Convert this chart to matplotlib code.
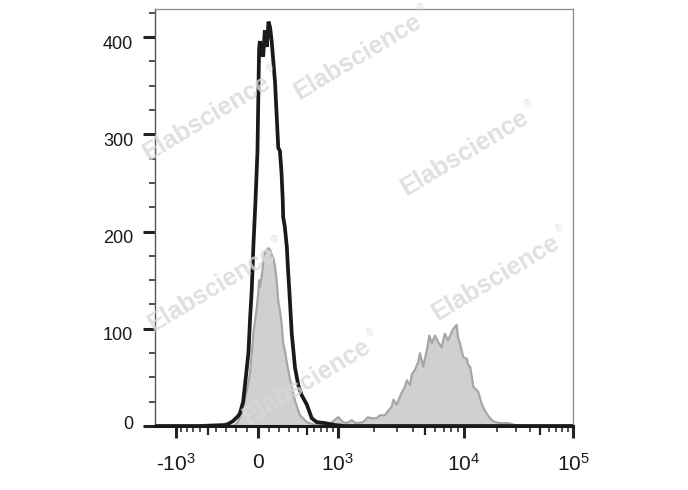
import numpy as np
import matplotlib
matplotlib.use("Agg")
import matplotlib.pyplot as plt
from matplotlib.transforms import ScaledTranslation

plt.rcParams['font.family'] = ['Liberation Sans', 'DejaVu Sans']
plt.rcParams['mathtext.fontset'] = 'custom'
plt.rcParams['mathtext.rm'] = 'Liberation Sans'

# histogram data, x in display channels (0-1024), y = count
black_ch = [0, 110, 171, 179, 191, 203, 208, 216, 225, 229, 233, 237, 241, 246, 251, 253,
            255, 257, 261, 265, 269, 274, 278, 282, 286, 294, 298, 302, 306, 310, 313,
            314, 318, 323, 326, 329, 335, 343, 351, 359, 372, 384, 396, 416, 441, 465, 1024]
black_cnt = [0, 0, 1, 2, 5, 10, 13, 25, 60, 76, 111, 140, 185, 230, 282, 335,
             388, 396, 385, 380, 407, 390, 416, 410, 395, 354, 320, 286, 283, 260, 232,
             215, 205, 184, 160, 140, 95, 60, 42, 32, 22, 8, 4, 3, 1, 0, 0]

gray_ch = [0, 189, 196, 203, 212, 218, 225, 229, 233, 237, 241, 245, 249, 253, 255, 257,
           261, 265, 269, 274, 278, 282, 286, 290, 294, 298, 302, 306, 310, 314, 318,
           326, 335, 343, 355, 372, 392, 404, 416, 429, 445, 449, 461, 470, 482, 492,
           510, 521, 531, 543, 551, 563, 572, 580, 584, 592, 600, 604, 612, 617, 625,
           629, 637, 645, 649, 657, 666, 672, 678, 686, 694, 702, 710, 718, 727, 731,
           735, 739, 742, 747, 755, 764, 767, 772, 776, 780, 788, 792, 800, 808, 817,
           825, 833, 845, 866, 882, 894, 1024]
gray_cnt = [0, 0, 1, 4, 13, 24, 36, 45, 55, 75, 96, 108, 120, 137, 150, 143,
            153, 167, 178, 181, 183, 181, 176, 173, 164, 150, 128, 119, 106, 85, 78,
            58, 40, 26, 11, 4, 1, 2, 3, 2, 8, 9, 4, 3, 6, 3,
            4, 9, 8, 8, 11, 11, 16, 20, 27, 22, 30, 34, 40, 47, 42,
            53, 58, 66, 75, 61, 78, 93, 85, 93, 86, 81, 95, 88, 97, 100,
            102, 104, 92, 85, 71, 69, 63, 61, 51, 40, 37, 35, 23, 16, 10,
            6, 4, 3, 3, 1, 0, 0]

# axis calibration (intensity -> channel)
cal_val = [-1e3, 0, 1e3, 1e4, 1e5]
cal_ch = [51, 252, 448, 757, 1024]
major_vals = [-1e3, 0, 1e3, 1e4, 1e5]
major_labels = ['-$\\mathregular{10^{3}}$', '0', '$\\mathregular{10^{3}}$',
                '$\\mathregular{10^{4}}$', '$\\mathregular{10^{5}}$']
mid_vals = [-500, 500, 5e3, 5e4]
minor_vals = ([-k * 100 for k in range(1, 10) if k != 5] + [k * 100 for k in range(1, 10) if k != 5]
              + [k * 1e3 for k in range(2, 10) if k != 5] + [k * 1e4 for k in range(2, 10) if k != 5])


def to_channel(v):
    u = np.arcsinh(np.asarray(v, dtype=float) / 500.0)
    return np.interp(u, np.arcsinh(np.array(cal_val) / 500.0), cal_ch)


fig = plt.figure(figsize=(6.88, 4.9), dpi=100)
ax = fig.add_axes([155 / 688, 1 - 426 / 490, 418 / 688, 417 / 490])

ax.fill_between(gray_ch, gray_cnt, 0, color='#d0d0d0', lw=0, zorder=1)
ax.plot(gray_ch, gray_cnt, color='#a6a6a6', lw=1.6, zorder=2)
ax.plot(black_ch, black_cnt, color='#1a1a1a', lw=2.7, zorder=3, solid_joinstyle='miter')

ax.set_xlim(0, 1024)
ax.set_ylim(0, 429)

ax.set_xticks(to_channel(major_vals))
ax.set_xticklabels(major_labels)
ax.set_xticks(to_channel(minor_vals), minor=True)
ax.set_yticks([0, 100, 200, 300, 400])
ax.set_yticks(np.arange(25, 430, 25), minor=True)

ax.tick_params(axis='both', which='major', direction='out', length=8.6, width=2.2,
               color='#222222', labelsize=13, labelcolor='#1a1a1a')
ax.tick_params(axis='both', which='minor', direction='out', length=4.0, width=1.1, color='#222222')
ax.tick_params(axis='x', which='major', pad=11, labelsize=15)
ax.tick_params(axis='y', which='major', pad=7)

# medium ticks at the half decades
sec = ax.secondary_xaxis('bottom')
sec.set_xticks(to_channel(mid_vals))
sec.set_xticklabels([])
sec.tick_params(direction='out', length=6.5, width=1.6, color='#222222')
sec.spines['bottom'].set_visible(False)

for s in ['top', 'right']:
    ax.spines[s].set_color('#8a8a8a')
    ax.spines[s].set_linewidth(0.9)
ax.spines['left'].set_color('#555555')
ax.spines['left'].set_linewidth(1.0)
ax.spines['bottom'].set_color('#1a1a1a')
ax.spines['bottom'].set_linewidth(2.2)

# y labels sit a little below their ticks in the original
for lab in ax.get_yticklabels():
    dy = 4 if lab.get_text() == '0' else -5
    lab.set_transform(lab.get_transform() + ScaledTranslation(0, dy / 100, fig.dpi_scale_trans))

# watermarks
marks = [(358, 57), (207, 118), (465, 153), (496, 278), (212, 289), (307, 382)]
ang = 31
for cx, cy in marks:
    fx, fy = cx / 688, 1 - cy / 490
    fig.text(fx, fy, 'Elabscience', fontsize=18, fontweight='bold', color='#d8d8d8', alpha=0.8,
             rotation=ang, ha='center', va='center', rotation_mode='anchor', zorder=10)
    t = np.deg2rad(ang)
    ex = cx + 80 * np.cos(t) - 10 * np.sin(t)
    ey = cy - 80 * np.sin(t) - 10 * np.cos(t)
    fig.text(ex / 688, 1 - ey / 490, '®', fontsize=7, color='#d8d8d8', alpha=0.8,
             rotation=ang, ha='center', va='center', rotation_mode='anchor', zorder=10)

fig.savefig('out.png', dpi=100)
